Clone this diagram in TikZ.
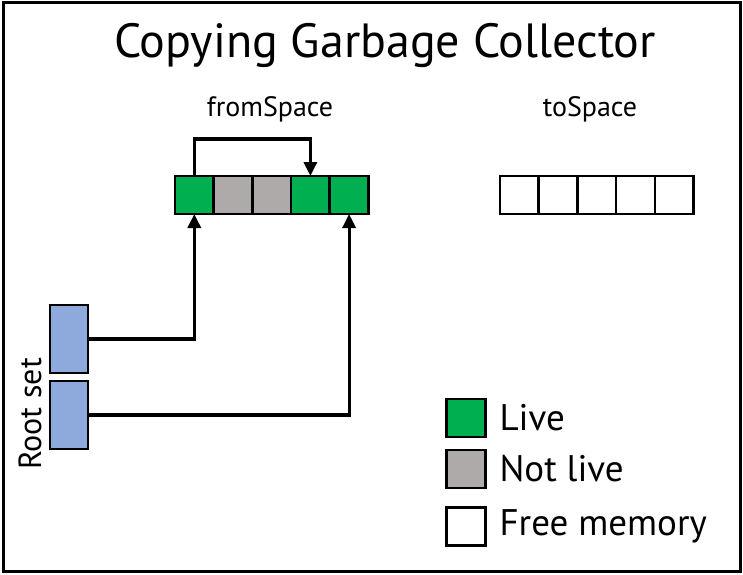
\documentclass[tikz,border=0pt]{standalone}
\usepackage{fontspec}
\setmainfont{PT Sans}
\usepackage{xcolor}
\usetikzlibrary{arrows.meta, positioning}

\definecolor{livegreen}{RGB}{0,176,80}
\definecolor{deadgray}{RGB}{174,170,170}
\definecolor{rootblue}{RGB}{142,169,219}

\begin{document}
\begin{tikzpicture}[
    x=1pt, y=-1pt,
    cell/.style={rectangle, draw, line width=2.6pt, minimum width=38.7pt, minimum height=38pt, inner sep=0pt, outer sep=0pt},
    live/.style={cell, fill=livegreen},
    dead/.style={cell, fill=deadgray},
    free/.style={cell, fill=white},
    root/.style={rectangle, draw, line width=2.6pt, fill=rootblue, minimum width=38pt, minimum height=68pt, inner sep=0pt, outer sep=0pt},
    space/.style={font=\fontsize{28}{32}\selectfont},
    legend/.style={font=\fontsize{37}{42}\selectfont, anchor=west, inner sep=0pt},
    arrow/.style={->, >={Triangle[length=14pt, width=13pt]}, line width=3.2pt}
]
\useasboundingbox (0,0) rectangle (743,574);
\draw[line width=3pt] (3.5,2.5) rectangle (740,571);

% Title
\node[font=\fontsize{48}{56}\selectfont] (title) at (385,45) {Copying Garbage Collector};

% fromSpace
\node[space] (fromlbl) at (270,109) {fromSpace};
\node[live] (f1) at (194.3,195) {};
\node[dead, right=0pt of f1] (f2) {};
\node[dead, right=0pt of f2] (f3) {};
\node[live, right=0pt of f3] (f4) {};
\node[live, right=0pt of f4] (f5) {};

% toSpace
\node[space] (tolbl) at (590,109) {toSpace};
\node[free] (t1) at (519.4,195) {};
\node[free, right=0pt of t1] (t2) {};
\node[free, right=0pt of t2] (t3) {};
\node[free, right=0pt of t3] (t4) {};
\node[free, right=0pt of t4] (t5) {};

% Root set
\node[root] (r1) at (69,339) {};
\node[root, below=8pt of r1] (r2) {};
\node[font=\fontsize{32}{36}\selectfont, rotate=90] (rootlbl) at (30,414) {Root set};

% Arrows
\draw[arrow] (f1.north) -- ++(0,-37) -| (f4.north);
\draw[arrow] (r1.east) -| (f1.south);
\draw[arrow] (r2.east) -| (f5.south);

% Legend
\node[live] (k1) at (466,418) {};
\node[dead] (k2) at (466,469) {};
\node[free] (k3) at (466,526.5) {};
\node[legend, right=14pt of k1] (k1lbl) {Live};
\node[legend, right=14pt of k2] (k2lbl) {Not live};
\node[legend, right=14pt of k3] (k3lbl) {Free memory};

\end{tikzpicture}
\end{document}
